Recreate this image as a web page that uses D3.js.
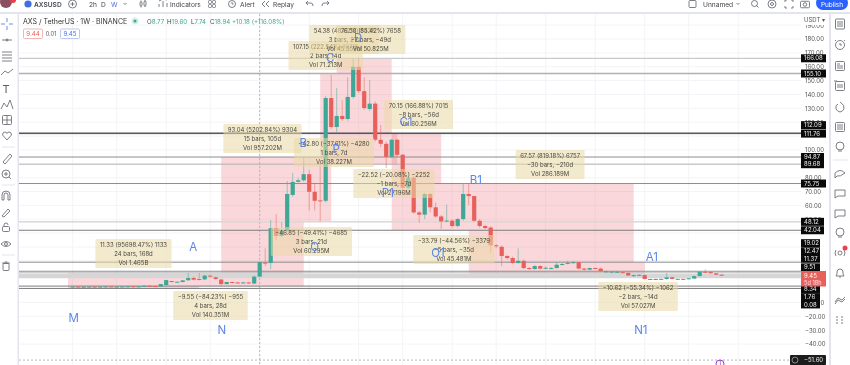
<!DOCTYPE html>
<html>
<head>
<meta charset="utf-8">
<script src="https://cdn.jsdelivr.net/npm/d3@7"></script>
<style>
  html, body { margin: 0; padding: 0; background: #fff; overflow: hidden; }
  svg { display: block; font-family: Inter, Roboto, sans-serif; filter: blur(0.35px); }
</style>
</head>
<body>
<div id="chart"></div>
<script>
/* weekly candles */
var opens = [1.2,1.4,1.2,1.3,1.4,1.3,1.4,1.5,1.4,1.4,1.5,1.6,1.5,1.7,2.0,1.8,1.5,2.5,5.4,4.7,4.7,6.0,7.6,6.9,6.6,9.3,8.1,6.5,3.2,4.7,4.4,4.1,4.4,3.6,8.6,18.7,18.4,43.6,37.9,42.2,67.5,77,78.1,82.5,69.8,63.6,63.3,137.4,116.5,124.5,122.3,138.2,160,142.4,129.5,133.4,107.3,104.4,95,107.3,96.5,72.7,80,54.9,53.3,68.2,58.6,52,48.4,49,45.1,50.1,68.2,66.7,48.9,45.1,44,31.2,30.1,23.5,22,18.4,20,14.8,14.1,16.2,14.6,14.4,14.8,17.2,18,18.5,18.9,14.4,13.6,14.8,14.4,12,11.8,11.8,11.8,11.3,8.9,9.4,9.7,6.9,6.6,6.7,6.9,8.1,6.7,7,6.8,7.2,9,12.1,11.9,11,10];
var highs = [1.5,1.5,1.4,1.5,1.5,1.5,1.5,1.6,1.5,1.6,1.7,1.8,1.7,2.1,2.2,1.9,3.3,6.2,5.6,5,6.0,11.2,8.5,11.2,10,10,8.5,7,5,5,4.8,4.9,4.8,9.4,19.5,29,49.4,53.7,47.9,77.6,83.4,80,94.7,85.6,76,90.6,139,154,144.7,136,152.5,166.1,166.8,152.5,150.3,135,118,106,108,108,97,81,81,56,69,69,62,53,60.6,50,51,75.4,75.4,67,50,46,45,32,31,24,23,29,21,15.5,17,17,16,15.5,19,18.5,20,20,19.2,15,15,15.2,15,12.8,12.6,12.5,12.2,11.6,10,10.2,9.9,7.1,7.2,7.2,11.2,8.5,7.2,7.2,7.6,9.2,12.3,13.8,12.2,11.2,10.2];
var lows = [1.0,1.1,1.1,1.2,1.2,1.2,1.3,1.3,1.3,1.3,1.4,1.4,1.4,1.6,1.7,1.4,1.4,2.4,4.5,4.5,4.5,5.5,6,5.8,6,8,6.5,1.8,3,4,3.8,3.8,3.5,3.2,8.2,16.2,14.1,35,37,41,66,76.5,77,56.3,56.3,48.4,62,115,112,121,121,137,141,129,128,106,102,87,94,95,71,71,54,47.4,50,55,51,42.9,48,44,44,49,60.2,48,44,43,26,29,16.2,21,17.5,18,14,13.5,13.5,14,14,14,14.5,16.5,17.5,18,14,13,13.2,14,12.2,11.8,11.6,11.5,11.2,9,8.6,9,6.6,6.4,6.4,6.5,6.5,6.6,6.5,6.5,6.6,7,8.8,11.6,10.7,9.8,9.3];
var closes = [1.4,1.2,1.3,1.4,1.3,1.4,1.5,1.4,1.4,1.5,1.6,1.5,1.6,2.0,1.8,1.5,3.2,6.1,4.7,4.9,5.9,7.6,6.4,6.5,9.3,8.6,6.9,3.2,4.7,4.4,4.1,4.4,3.8,8.6,19.1,18.1,43.6,37.9,42.2,68.2,76.9,78.1,82.5,69.8,63.3,63,137.4,116.5,124.5,122.3,138.2,160,142.4,130.2,133.4,107.3,104.4,95,107.3,96.5,72.7,80,54.9,53.3,68.2,58.6,52,48.4,49,45.1,50.1,68.2,66.7,48.9,45.1,43.6,31.2,30.5,23.5,22,18.4,20,14.8,14.1,16.2,14.3,15,14.8,17.2,17.7,18.5,19,14.4,13.6,14.8,14.4,12.6,12.4,12.2,12.1,11.4,9.4,9.7,9.9,6.9,6.6,6.9,7,8.1,6.9,7,6.7,7.4,9,12.1,11.8,11,10,9.45];

/* drawn price levels and their tags */
var levels = [166.08,155.10,112.09,111.76,94.87,89.68,75.75,48.12,42.04,19.02,12.47,11.37,9.51,8.34,1.76,0.08];
var levelColors = ["#c9c9c9","#b0b0b0","#555","#555","#8e8e8e","#b5b5b5","#8e8e8e","#d8d8d8","#7c7c7c","#8e8e8e","#8e8e8e","#bbb","#d6d6d6","#d6d6d6","#7c7c7c","#7c7c7c"];
var levelWidths = [1.2,1.4,1.2,1,1,1,1,1.5,1,1,1,1,3,2.5,1,1];
var tagOffsets = [0,0,-8,0,0,0,0,0,0,-19,-20,-14,-8,12,11,16];
var tagWidths = [25,25,25,25,23,23,25,23,23,19,19,19,19,19,19,19];
var axisTicks = [190,180,170,160,150,140,130,120,100,80,70,60,50,-10,-20,-30,-40];
var gridPrices = [190,180,170,160,150,140,130,120,110,100,90,80,70,60,50,40,30,20,10,0,-10,-20,-30,-40];
var gridBars = [0,8,17,25,34,43,52,60,69,77,86,95,104,112,121];

/* shaded ranges: first bar, last bar, top price, bottom price */
var zoneStart = [-0.85,23,27,42,45,47,48,47,58,67,72,102];
var zoneEnd   = [23,27,42,45,47,48,58,59,67,72,102,104];
var zoneTop   = [11.33,11.33,94.87,94.87,155.1,155.1,166.08,111.76,111.76,75.75,75.75,19.02];
var zoneBot   = [0.08,1.78,1.79,48.02,48,111.76,111.76,89.24,41.94,41.96,8.18,8.4];

/* measure boxes */
var boxLines = [
  ["11.33 (95698.47%) 1133","24 bars, 168d","Vol 1.465B"],
  ["\u22129.55 (\u221284.23%) \u2212955","4 bars, 28d","Vol 140.351M"],
  ["93.04 (5202.84%) 9304","15 bars, 105d","Vol 957.202M"],
  ["\u221246.85 (\u221249.41%) \u22124685","3 bars, 21d","Vol 60.295M"],
  ["\u221242.80 (\u221237.61%) \u22124280","1 bars, 7d","Vol 38.227M"],
  ["107.15 (222.54%) 10715","2 bars, 14d","Vol 71.213M"],
  ["54.38 (48.82%) 5438","3 bars, 21d","Vol 45.559M"],
  ["76.58 (85.42%) 7658","\u22127 bars, \u221249d","Vol 50.825M"],
  ["70.15 (166.88%) 7015","\u22128 bars, \u221256d","Vol 60.256M"],
  ["\u221222.52 (\u221220.08%) \u22122252","\u22121 bars, \u22127d","Vol 27.196M"],
  ["\u221233.79 (\u221244.56%) \u22123379","\u22125 bars, \u221235d","Vol 45.481M"],
  ["67.57 (819.18%) 6757","\u221230 bars, \u2212210d","Vol 286.189M"],
  ["\u221210.62 (\u221255.34%) \u22121062","\u22122 bars, \u221214d","Vol 57.027M"]
];
var boxBars   = [11.05,25.05,34.5,43.4,47.5,46,49.4,54.2,62.9,58.4,69.3,86.8,102.8];
var boxPrices = [35.7,-1.8,118.7,44.4,108.6,178.6,190.1,190.1,136,86.2,38.6,99.9,4.7];

/* wave letters */
var waveNames  = ["M","A","N","B","P","O","C","D","C1","P1","O1","B1","A1","N1"];
var waveBars   = [0.2,21.9,27.1,41.9,47.9,44,46.8,51.9,60.6,57.3,66.4,73.3,105.3,103.3];
var wavePrices = [-21.3,29.9,-29.9,105,100.7,29.9,166.3,180.7,120.1,68.9,25.6,78.3,22.7,-29.9];

var width = 850, height = 365;
var paneLeft = 19, paneRight = 801, paneTop = 14;
var upColor = "#3fa796", downColor = "#e8605a", blue = "#5b86e8", iconColor = "#5d606b";

var xScale = d3.scaleLinear().domain([0, 118]).range([72.7, 721.7]);
var yScale = d3.scaleLinear().domain([180, -40]).range([39, 344]);

var svg = d3.select("#chart").append("svg")
        .attr("width", width)
        .attr("height", height);

svg.append("clipPath").attr("id", "pane").append("rect")
        .attr("x", paneLeft).attr("y", paneTop)
        .attr("width", paneRight - paneLeft).attr("height", height - paneTop);

var pane = svg.append("g").attr("clip-path", "url(#pane)");

// grid
pane.selectAll("line.vgrid").data(gridBars).enter().append("line")
        .attr("x1", function (d) { return xScale(d); })
        .attr("x2", function (d) { return xScale(d); })
        .attr("y1", paneTop).attr("y2", height)
        .attr("stroke", "#f3f4f7");
pane.selectAll("line.hgrid").data(gridPrices).enter().append("line")
        .attr("x1", paneLeft).attr("x2", paneRight)
        .attr("y1", function (d) { return yScale(d); })
        .attr("y2", function (d) { return yScale(d); })
        .attr("stroke", "#f3f4f7");

// shaded ranges
pane.selectAll("rect.zone").data(zoneStart).enter().append("rect")
        .attr("x", function (d) { return xScale(d); })
        .attr("y", function (d, i) { return yScale(zoneTop[i]); })
        .attr("width", function (d, i) { return xScale(zoneEnd[i]) - xScale(d); })
        .attr("height", function (d, i) { return yScale(zoneBot[i]) - yScale(zoneTop[i]); })
        .attr("fill", "#ec7a84")
        .attr("opacity", 0.3);

// crosshair
pane.append("line")
        .attr("x1", xScale(34)).attr("x2", xScale(34))
        .attr("y1", paneTop).attr("y2", height)
        .attr("stroke", "#b5b8c2").attr("stroke-dasharray", "2,2");
pane.append("line")
        .attr("x1", paneLeft).attr("x2", paneRight)
        .attr("y1", yScale(-51.6)).attr("y2", yScale(-51.6))
        .attr("stroke", "#b5b8c2").attr("stroke-dasharray", "2,2");

// levels
pane.selectAll("line.level").data(levels).enter().append("line")
        .attr("x1", paneLeft).attr("x2", paneRight)
        .attr("y1", function (d) { return yScale(d); })
        .attr("y2", function (d) { return yScale(d); })
        .attr("stroke", function (d, i) { return levelColors[i]; })
        .attr("stroke-width", function (d, i) { return levelWidths[i]; });

// candles
pane.selectAll("line.wick").data(opens).enter().append("line")
        .attr("x1", function (d, i) { return xScale(i); })
        .attr("x2", function (d, i) { return xScale(i); })
        .attr("y1", function (d, i) { return yScale(highs[i]); })
        .attr("y2", function (d, i) { return yScale(lows[i]); })
        .attr("stroke", function (d, i) { return closes[i] >= d ? upColor : downColor; })
        .attr("stroke-opacity", 0.5);
pane.selectAll("rect.body").data(opens).enter().append("rect")
        .attr("x", function (d, i) { return xScale(i) - 2.1; })
        .attr("y", function (d, i) { return yScale(Math.max(d, closes[i])); })
        .attr("width", 4.2)
        .attr("height", function (d, i) { return Math.max(1, Math.abs(yScale(d) - yScale(closes[i]))); })
        .attr("fill", function (d, i) { return closes[i] >= d ? upColor : downColor; });

// measure boxes
boxLines.forEach(function (lines, i) {
    var g = pane.append("g");
    var cx = xScale(boxBars[i]), top = yScale(boxPrices[i]);
    var rect = g.append("rect").attr("y", top).attr("height", 29).attr("rx", 1)
            .attr("fill", "#e9d9a6").attr("opacity", 0.55);
    var w = 0;
    lines.forEach(function (t, k) {
        var txt = g.append("text")
                .attr("x", cx).attr("y", top + 6 + k * 9)
                .attr("dy", "0.35em")
                .attr("text-anchor", "middle")
                .attr("font-size", 6)
                .attr("fill", "#4a4a42")
                .text(t);
        w = Math.max(w, txt.node().getComputedTextLength());
    });
    rect.attr("x", cx - w / 2 - 4.5).attr("width", w + 9);
});

// wave letters
pane.selectAll("text.wave").data(waveNames).enter().append("text")
        .attr("x", function (d, i) { return xScale(waveBars[i]); })
        .attr("y", function (d, i) { return yScale(wavePrices[i]); })
        .attr("dy", "0.35em")
        .attr("text-anchor", "middle")
        .attr("font-size", 11.5)
        .attr("fill", blue)
        .text(function (d) { return d; });

// marker at the bottom edge
pane.append("circle").attr("cx", 720).attr("cy", 364).attr("r", 4)
        .attr("fill", "#fff").attr("stroke", "#a03cc8");
pane.append("text").attr("x", 720).attr("y", 365).attr("text-anchor", "middle")
        .attr("font-size", 6).attr("fill", "#a03cc8").text("1");

// price axis
var yAxis = d3.axisRight(yScale).tickValues(axisTicks).tickSize(0).tickPadding(0)
        .tickFormat(d3.format(".2f"));
var axisG = svg.append("g").attr("transform", "translate(805,0)").call(yAxis);
axisG.select(".domain").remove();
axisG.selectAll("text").attr("font-size", 6).attr("font-family", "Inter, Roboto, sans-serif").attr("fill", "#555");

svg.append("rect").attr("x", 801).attr("y", 14).attr("width", 28).attr("height", 11).attr("fill", "#fff");
svg.append("text").attr("x", 804).attr("y", 22).attr("font-size", 6).attr("fill", "#555").text("USDT \u25BE");

// price tags
levels.forEach(function (d, i) {
    var y = yScale(d) + tagOffsets[i];
    svg.append("rect").attr("x", 801).attr("y", y - 4).attr("width", tagWidths[i]).attr("height", 8).attr("fill", "#0a0a0a");
    svg.append("text").attr("x", 804).attr("y", y).attr("dy", "0.35em")
            .attr("font-size", 6).attr("fill", "#eee").text(d3.format(".2f")(d));
});
svg.append("rect").attr("x", 801).attr("y", 271).attr("width", 25).attr("height", 15.5).attr("fill", "#e8605a");
svg.append("text").attr("x", 804).attr("y", 277.5).attr("font-size", 6).attr("fill", "#fff").text("9.45");
svg.append("text").attr("x", 804).attr("y", 284.5).attr("font-size", 5.6).attr("fill", "#fde").text("5d 18h");
svg.append("rect").attr("x", 790).attr("y", yScale(-51.6) - 5).attr("width", 36).attr("height", 10).attr("rx", 1).attr("fill", "#1c1c1c");
svg.append("circle").attr("cx", 795).attr("cy", yScale(-51.6)).attr("r", 3).attr("fill", "none").attr("stroke", "#888");
svg.append("text").attr("x", 804).attr("y", yScale(-51.6)).attr("dy", "0.35em")
        .attr("font-size", 6).attr("fill", "#eee").text("\u221251.60");

// legend
svg.append("text").attr("x", 23).attr("y", 24).attr("font-size", 7).attr("fill", "#333").text("AXS / TetherUS \u00B7 1W \u00B7 BINANCE");
svg.append("circle").attr("cx", 135).attr("cy", 21).attr("r", 3.5).attr("fill", "#d8eee9");
svg.append("circle").attr("cx", 135).attr("cy", 21).attr("r", 1.6).attr("fill", upColor);
var ohlcLabels = ["O", "H", "L", "C"], ohlcValues = ["8.77", "19.60", "7.74", "18.94"], ohlcX = [147, 167, 191, 210];
ohlcLabels.forEach(function (l, i) {
    var t = svg.append("text").attr("x", ohlcX[i]).attr("y", 24).attr("font-size", 6.2).attr("fill", "#444").text(l);
    t.append("tspan").attr("fill", upColor).text(ohlcValues[i]);
});
svg.append("text").attr("x", 232).attr("y", 24).attr("font-size", 6.2).attr("fill", upColor).text("+10.18 (+116.08%)");
svg.append("rect").attr("x", 23.5).attr("y", 29).attr("width", 19).attr("height", 9.5).attr("rx", 1).attr("fill", "#fff").attr("stroke", "#f2b5b5");
svg.append("text").attr("x", 33).attr("y", 36).attr("text-anchor", "middle").attr("font-size", 6.2).attr("fill", "#e8605a").text("9.44");
svg.append("text").attr("x", 51).attr("y", 36).attr("text-anchor", "middle").attr("font-size", 5.6).attr("fill", "#555").text("0.01");
svg.append("rect").attr("x", 60.5).attr("y", 29).attr("width", 19).attr("height", 9.5).attr("rx", 1).attr("fill", "#fff").attr("stroke", "#b9c7f5");
svg.append("text").attr("x", 70).attr("y", 36).attr("text-anchor", "middle").attr("font-size", 6.2).attr("fill", "#4a72e0").text("9.45");

// chrome: separators
svg.append("rect").attr("x", 0).attr("y", 12).attr("width", width).attr("height", 2).attr("fill", "#e3e5ec");
svg.append("rect").attr("x", 17.5).attr("y", 13).attr("width", 1.5).attr("height", height).attr("fill", "#e3e5ec");
svg.append("rect").attr("x", 829).attr("y", 13).attr("width", 2).attr("height", height).attr("fill", "#e3e5ec");

// chrome: top bar
svg.append("circle").attr("cx", 6).attr("cy", 2).attr("r", 6).attr("fill", "#8a5060");
svg.append("circle").attr("cx", 13).attr("cy", 0).attr("r", 3).attr("fill", "#e8404a");
svg.append("circle").attr("cx", 28).attr("cy", 4).attr("r", 3.6).attr("fill", "#3f6fe0");
svg.append("text").attr("x", 34).attr("y", 7).attr("font-size", 6.6).attr("font-weight", 600).attr("fill", "#445").text("AXSUSD");
var topTexts = ["2h", "D", "W", "Indicators", "Alert", "Replay", "Unnamed"];
var topX = [89, 101, 111, 170, 240, 273, 703];
topTexts.forEach(function (t, i) {
    svg.append("text").attr("x", topX[i]).attr("y", 7).attr("font-size", 6.6)
            .attr("fill", t === "W" ? "#4a72e0" : "#444").text(t);
});
svg.append("rect").attr("x", 816).attr("y", -4).attr("width", 32).attr("height", 14).attr("rx", 7).attr("fill", "#2962ff");
svg.append("text").attr("x", 832).attr("y", 6.5).attr("text-anchor", "middle").attr("font-size", 6.4).attr("fill", "#fff").text("Publish");

var iconG = svg.append("g").attr("fill", "none").attr("stroke", iconColor).attr("stroke-width", 0.8);
function ring(x, y, r) { iconG.append("circle").attr("cx", x).attr("cy", y).attr("r", r); }
function box(x, y, w, h) { iconG.append("rect").attr("x", x - w / 2).attr("y", y - h / 2).attr("width", w).attr("height", h).attr("rx", 1); }
function draw(x, y, d) { return iconG.append("path").attr("transform", "translate(" + x + "," + y + ")").attr("d", d); }

// top bar icons
ring(72.5, 4, 4); draw(72.5, 4, "M-2,0H2M0,-2V2");
draw(125, 3, "M-1.5,0L0,1.5L1.5,0");
box(141, 4, 2, 4); box(145, 3.5, 2, 5); draw(141, 4, "M0,-3.5V-2M0,2V3.5"); draw(145, 3.5, "M0,-3.5V-2.5M0,2.5V3.5");
draw(163, 7, "M-4,0V-3M0,0V-6M4,0V-4M-4,-6L0,-8L4,-7");
box(210, 2, 3, 3); box(214, 2, 3, 3); box(210, 6, 3, 3); box(214, 6, 3, 3);
ring(232, 4, 3.5); draw(232, 4, "M0,-2V0H1.5");
draw(266, 4, "M-1,-3L-4,0L-1,3M3,-3L0,0L3,3");
draw(309, 4, "M-3,-1H2Q4,-1 4,2M-3,-1L-1,-3M-3,-1L-1,1");
draw(326, 4, "M3,-1H-2Q-4,-1 -4,2M3,-1L1,-3M3,-1L1,1");
box(692.5, 4, 7, 7); draw(738, 3, "M-1.5,0L0,1.5L1.5,0");
ring(754.5, 3.5, 3); draw(754.5, 3.5, "M2,2L4,4");
ring(772, 4, 4); ring(772, 4, 1.5);
draw(789, 4, "M-4,-2V-4H-2M2,-4H4V-2M4,2V4H2M-2,4H-4V2");
box(805, 4.5, 9, 6.5); ring(805, 4.5, 1.8);

// left toolbar
var leftSep = [147, 185, 255];
leftSep.forEach(function (y) {
    svg.append("line").attr("x1", 2).attr("x2", 15).attr("y1", y).attr("y2", y).attr("stroke", "#e3e5ec");
});
draw(7, 24, "M0,-6V-2M0,2V6M-6,0H-2M2,0H6").attr("stroke", "#4a72e0");
draw(7, 40, "M-5,0H5"); ring(7, 40, 1);
draw(7, 56, "M-5,-4H5M-5,-1H5M-5,2H5M-5,5H5");
draw(7, 72, "M-6,3L-2,-1L1,1L6,-3");
svg.append("text").attr("x", 6).attr("y", 93).attr("text-anchor", "middle").attr("font-size", 11).attr("fill", iconColor).text("T");
draw(7, 104, "M-6,5L-3,-1L0,3L3,-4L6,5");
box(7, 120, 9, 9); draw(7, 120, "M-4.5,0H4.5M0,-4.5V4.5");
draw(7, 136, "M0,4L-4.5,-1Q-4.5,-4 -2,-4Q-0.5,-4 0,-2.5Q0.5,-4 2,-4Q4.5,-4 4.5,-1Z");
draw(7, 158, "M-4,4L3,-4L5,-2L-2,6Z");
ring(6, 174, 4); draw(6, 174, "M3,3L5,5M-2,0H2M0,-2V2");
draw(6, 196, "M-4,4V-1A4,4 0 0 1 4,-1V4H2V-1A2,2 0 0 0 -2,-1V4Z");
draw(6, 212, "M-4,4L2,-3L4,-1L-2,5Z");
box(6, 229, 7, 5); draw(6, 229, "M-2,-2.5V-4A2,2 0 0 1 2,-4");
draw(6, 244, "M-5,0Q0,-5 5,0Q0,5 -5,0Z"); ring(6, 244, 1.5);
box(6, 267, 6, 7); draw(6, 267, "M-4,-4H4M-1.5,-5H1.5");

// right toolbar
box(840, 24, 9, 10); draw(840, 24, "M-3,-2H3M-3,0H3M-3,2H3");
ring(840, 45, 4.5); draw(840, 45, "M0,-2V0H2M-4,-5L-5,-4M4,-5L5,-4");
box(840, 66, 9, 9); draw(840, 66, "M-3,-2H0M-3,0H3M-3,2H3");
box(840, 86, 9, 9); draw(840, 86, "M-3,-1H3M-3,1H3M-6,-5H-3");
draw(840, 107, "M0,-5Q5,-2 4,2Q2,5 0,5Q-2,5 -4,2Q-5,-2 -2,-3");
box(840, 127, 9, 9); draw(840, 127, "M-3,-2H3M-3,0H3M-3,2H3");
ring(840, 146, 4); draw(840, 146, "M-2,5H2");
svg.append("line").attr("x1", 833).attr("x2", 848).attr("y1", 160).attr("y2", 160).attr("stroke", "#e3e5ec");
draw(840, 173, "M-5,0Q0,-5 5,0Q0,4 -3,3L-5,5Z");
draw(840, 193, "M-5,-3H5V3H-2L-5,5Z");
draw(840, 213, "M-5,-3H5V3H-2L-5,5Z");
ring(840, 232, 4); draw(840, 232, "M-2,5H2");
ring(840, 253, 2); draw(840, 253, "M-4,-3Q-6,0 -4,3M4,-3Q6,0 4,3");
svg.append("circle").attr("cx", 845).attr("cy", 248).attr("r", 2.5).attr("fill", "#ef4050");
draw(840, 273, "M-4,3H4L3,1V-1Q3,-4 0,-4Q-3,-4 -3,-1V1ZM-1,4H1");
draw(840, 300, "M-5,2L-2,-2L2,0L5,-3M-5,4L-2,0L2,2L5,-1");
draw(840, 320, "M-4,-3H-2M1,-3H3M-4,0H-2M1,0H3M-4,3H-2M1,3H3");
</script>
</body>
</html>
